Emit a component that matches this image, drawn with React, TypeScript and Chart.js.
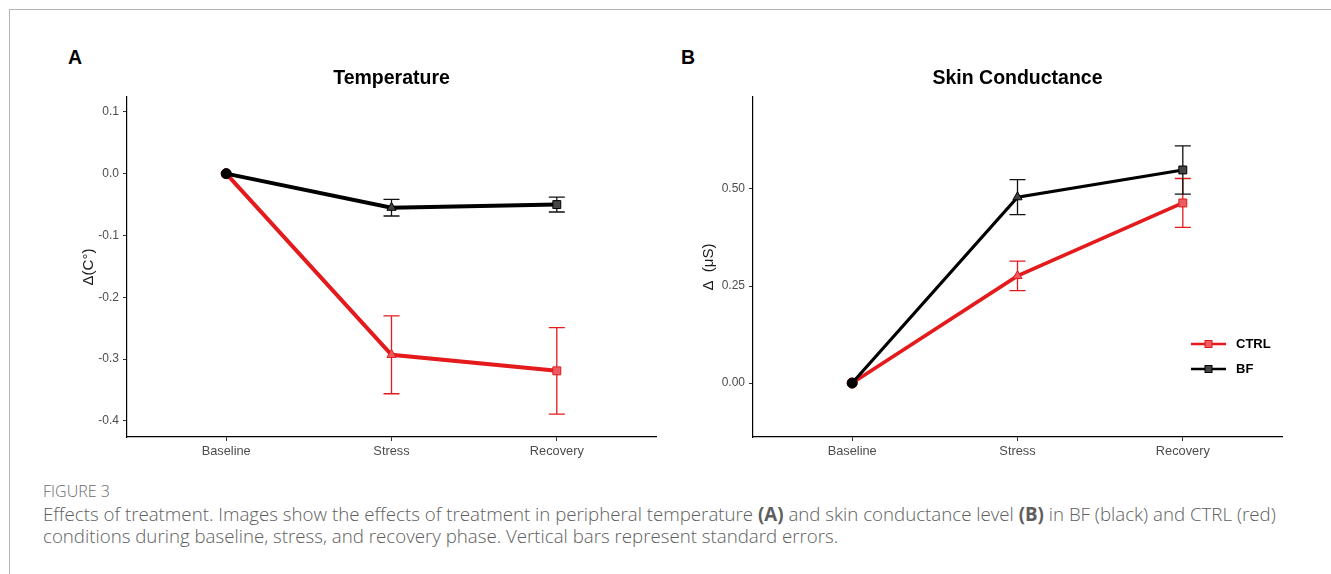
import React, { useEffect, useRef } from 'react';
import { Chart, registerables } from 'chart.js';

Chart.register(...registerables);

// ---------- data ----------
const phases = ['Baseline', 'Stress', 'Recovery'];
const phaseIdx = [0, 1, 2];

const tempCTRL = [0, -0.293, -0.319];
const tempCTRLse = [0, 0.063, 0.070];
const tempBF = [0, -0.055, -0.050];
const tempBFse = [0, 0.0135, 0.012];

const scCTRL = [0, 0.276, 0.464];
const scCTRLse = [0, 0.038, 0.063];
const scBF = [0, 0.479, 0.549];
const scBFse = [0, 0.045, 0.062];

const tempTicks = [0.1, 0, -0.1, -0.2, -0.3, -0.4];
const scTicks = [0, 0.25, 0.5];

const seriesNames = ['CTRL', 'BF'];

// ---------- styles ----------
const FONT = "'Liberation Sans', Arial, sans-serif";
const RED = '#e41a1c';
const RED_FILL = '#ec5c61';
const BF_FILL = '#444444';

const errorBarPlugin = {
  id: 'errorBars',
  beforeDatasetsDraw(chart: any) {
    const { ctx } = chart;
    const x = chart.scales.x;
    const y = chart.scales.y;
    const sets = chart.data.datasets.slice().reverse();
    sets.forEach((ds: any) => {
      const se = ds.se as number[];
      if (!se) return;
      ctx.save();
      ctx.strokeStyle = ds.errColor;
      ctx.lineWidth = 1.3;
      ds.data.forEach((pt: any, j: number) => {
        if (!se[j]) return;
        const px = x.getPixelForValue(pt.x);
        const top = y.getPixelForValue(pt.y + se[j]);
        const bot = y.getPixelForValue(pt.y - se[j]);
        const hw = 8;
        ctx.beginPath();
        ctx.moveTo(px, top);
        ctx.lineTo(px, bot);
        ctx.moveTo(px - hw, top);
        ctx.lineTo(px + hw, top);
        ctx.moveTo(px - hw, bot);
        ctx.lineTo(px + hw, bot);
        ctx.stroke();
      });
      ctx.restore();
    });
  },
};

const legendPlugin = {
  id: 'customLegend',
  afterDraw(chart: any, _args: any, opts: any) {
    if (!opts || !opts.show) return;
    const { ctx } = chart;
    const items = seriesNames.map((name) =>
      chart.data.datasets.find((d: any) => d.label === name)
    );
    items.forEach((ds: any, i: number) => {
      const yy = opts.y[i];
      ctx.save();
      ctx.strokeStyle = ds.borderColor;
      ctx.lineWidth = 2.6;
      ctx.beginPath();
      ctx.moveTo(opts.x, yy);
      ctx.lineTo(opts.x + 35, yy);
      ctx.stroke();
      ctx.fillStyle = ds.pointBackgroundColor[2];
      ctx.strokeStyle = ds.pointBorderColor;
      ctx.lineWidth = 1;
      ctx.fillRect(opts.x + 14, yy - 3.5, 7, 7);
      ctx.strokeRect(opts.x + 14, yy - 3.5, 7, 7);
      ctx.fillStyle = '#000';
      ctx.font = `bold 13px ${FONT}`;
      ctx.textBaseline = 'middle';
      ctx.textAlign = 'left';
      ctx.fillText(ds.label, opts.x + 45, yy);
      ctx.restore();
    });
  },
};

function toPts(vals: number[]) {
  return vals.map((v, i) => ({ x: phaseIdx[i], y: v }));
}

function makeConfig(p: any) {
  return {
    type: 'line',
    data: {
      datasets: [
        {
          label: 'BF',
          data: toPts(p.bf),
          se: p.bfSe,
          errColor: '#111111',
          borderColor: '#000000',
          borderWidth: p.lwBF,
          tension: 0,
          pointStyle: ['circle', 'triangle', 'rect'],
          pointRadius: [5, 5.3, 5.6],
          pointBackgroundColor: ['#000000', BF_FILL, BF_FILL],
          pointBorderColor: '#000000',
          pointBorderWidth: 1,
        },
        {
          label: 'CTRL',
          data: toPts(p.ctrl),
          se: p.ctrlSe,
          errColor: RED,
          borderColor: RED,
          borderWidth: p.lwCTRL,
          tension: 0,
          pointStyle: ['circle', 'triangle', 'rect'],
          pointRadius: [5, 5.3, 5.6],
          pointBackgroundColor: ['#000000', RED_FILL, RED_FILL],
          pointBorderColor: RED,
          pointBorderWidth: 1,
        },
      ],
    },
    options: {
      responsive: false,
      animation: false,
      events: [],
      layout: { padding: { left: p.padLeft, right: p.padRight, top: 67.3, bottom: 3 } },
      plugins: {
        legend: { display: false },
        tooltip: { enabled: false },
        title: {
          display: true,
          text: p.title,
          fullSize: false,
          color: '#000',
          font: { family: FONT, size: 19.5, weight: 'bold', lineHeight: 1.2 },
          padding: { top: 0, bottom: 6.3 },
        },
        customLegend: p.legend,
      },
      scales: {
        x: {
          type: 'linear',
          min: -0.6,
          max: 2.6,
          afterBuildTicks: (s: any) => {
            s.ticks = phaseIdx.map((v) => ({ value: v }));
          },
          afterFit: (s: any) => {
            s.height = 30;
          },
          ticks: {
            autoSkip: false,
            maxRotation: 0,
            padding: 3,
            color: '#4d4d4d',
            font: { family: FONT, size: 12.8 },
            callback: (v: any) => phases[v],
          },
          grid: { display: true, drawOnChartArea: false, drawTicks: true, tickLength: 4, color: '#333', lineWidth: 1 },
          border: { display: true, color: '#000', width: 1.2 },
        },
        y: {
          type: 'linear',
          min: p.yMin,
          max: p.yMax,
          afterBuildTicks: (s: any) => {
            s.ticks = p.ticks.map((v: number) => ({ value: v }));
          },
          afterFit: (s: any) => {
            s.width = p.yWidth;
          },
          ticks: {
            autoSkip: false,
            padding: 4,
            color: '#4d4d4d',
            font: { family: FONT, size: 12 },
            callback: (v: any) => Number(v).toFixed(p.decimals),
          },
          title: {
            display: true,
            text: p.yTitle,
            color: '#1a1a1a',
            font: { family: FONT, size: 15, lineHeight: 1.2 },
            padding: { top: 4, bottom: 4 },
          },
          grid: { display: true, drawOnChartArea: false, drawTicks: true, tickLength: 4, color: '#333', lineWidth: 1 },
          border: { display: true, color: '#000', width: 1.2 },
        },
      },
    },
    plugins: [errorBarPlugin, legendPlugin],
  };
}

function ChartCanvas({ config, left, width, height }: any) {
  const ref = useRef<HTMLCanvasElement | null>(null);
  useEffect(() => {
    if (!ref.current) return;
    const chart = new Chart(ref.current, config as any);
    return () => chart.destroy();
  }, []);
  return (
    <canvas
      ref={ref}
      width={width}
      height={height}
      style={{ position: 'absolute', left, top: 0, width, height }}
    />
  );
}

const tempConfig = makeConfig({
  title: 'Temperature',
  ctrl: tempCTRL,
  ctrlSe: tempCTRLse,
  bf: tempBF,
  bfSe: tempBFse,
  lwCTRL: 4,
  lwBF: 4,
  yMin: -0.426,
  yMax: 0.124,
  ticks: tempTicks,
  decimals: 1,
  yTitle: 'Δ(C°)',
  yWidth: 51,
  padLeft: 76,
  padRight: 9,
  legend: { show: false },
});

const scConfig = makeConfig({
  title: 'Skin Conductance',
  ctrl: scCTRL,
  ctrlSe: scCTRLse,
  bf: scBF,
  bfSe: scBFse,
  lwCTRL: 3.6,
  lwBF: 3.2,
  yMin: -0.139,
  yMax: 0.737,
  ticks: scTicks,
  decimals: 2,
  yTitle: 'Δ  (μS)',
  yWidth: 57,
  padLeft: 70,
  padRight: 49,
  legend: { show: true, x: 565, y: [344, 369] },
});

export default function App() {
  const capStyle: React.CSSProperties = {
    position: 'absolute',
    left: 43,
    fontFamily: "'Open Sans', 'Noto Sans', sans-serif",
    color: '#5e5e5e',
    whiteSpace: 'nowrap',
  };
  return (
    <div
      style={{
        position: 'fixed',
        left: 0,
        top: 0,
        width: 1331,
        height: 574,
        background: '#fff',
        overflow: 'hidden',
      }}
    >
      <div
        style={{
          position: 'absolute',
          left: 9,
          top: 9,
          width: 1322,
          height: 580,
          borderTop: '1.5px solid #b4b4b4',
          borderLeft: '1.5px solid #b4b4b4',
        }}
      />
      <div
        style={{
          position: 'absolute',
          left: 68,
          top: 47,
          fontFamily: FONT,
          fontWeight: 'bold',
          fontSize: 19.5,
          lineHeight: '20px',
          color: '#000',
        }}
      >
        A
      </div>
      <div
        style={{
          position: 'absolute',
          left: 681,
          top: 47,
          fontFamily: FONT,
          fontWeight: 'bold',
          fontSize: 19.5,
          lineHeight: '20px',
          color: '#000',
        }}
      >
        B
      </div>
      <ChartCanvas config={tempConfig} left={0} width={665} height={470} />
      <ChartCanvas config={scConfig} left={626} width={705} height={470} />
      <div style={{ ...capStyle, top: 481, fontSize: 16, lineHeight: '20px', color: '#6a6a6a', fontWeight: 300 }}>FIGURE 3</div>
      <div style={{ ...capStyle, top: 503, fontSize: 18.7, lineHeight: '22px', fontWeight: 300 }}>
        Effects of treatment. Images show the effects of treatment in peripheral temperature <b style={{ fontWeight: 700 }}>(A)</b> and skin
        conductance level <b style={{ fontWeight: 700 }}>(B)</b> in BF (black) and CTRL (red)
        <br />
        conditions during baseline, stress, and recovery phase. Vertical bars represent standard errors.
      </div>
    </div>
  );
}
